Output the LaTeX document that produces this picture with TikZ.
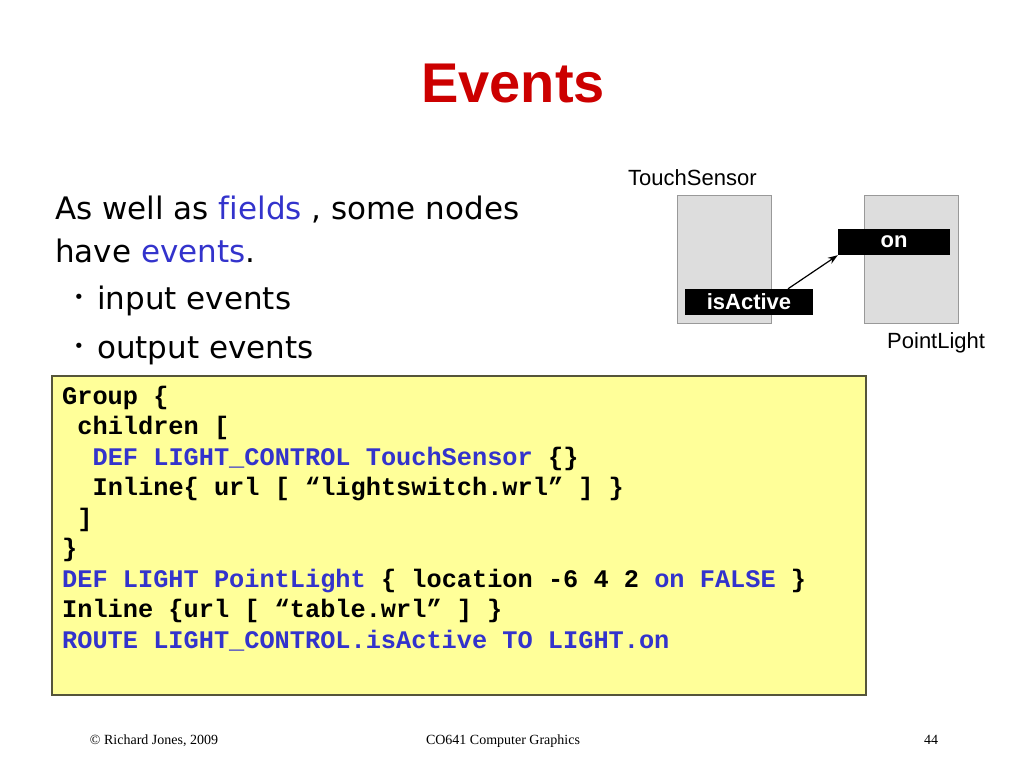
\documentclass[tikz,border=0pt]{standalone}
\usepackage{fontspec}
\setmainfont{Liberation Sans}
\setmonofont{Liberation Mono}
\newfontfamily\bodyfont[Ligatures={NoCommon}]{DejaVu Sans}
\newfontfamily\footfont{Liberation Serif}
\usetikzlibrary{arrows.meta}
\definecolor{titlered}{HTML}{CC0000}
\definecolor{codeblue}{HTML}{3333CC}
\definecolor{codeyellow}{HTML}{FFFF99}
\definecolor{codeborder}{HTML}{55553A}
\definecolor{boxgray}{HTML}{DDDDDD}
\definecolor{boxedge}{HTML}{999999}
\begin{document}
\begin{tikzpicture}[x=1pt,y=-1pt,
  txt/.style={inner sep=0pt,anchor=base west},
  body/.style={txt,font=\bodyfont\fontsize{31}{37}\selectfont},
  code/.style={txt,font=\ttfamily\bfseries\fontsize{25.3}{30}\selectfont},
  lbl/.style={inner sep=0pt,anchor=base west,font=\fontsize{22}{26}\selectfont},
  nodebox/.style={draw=boxedge,fill=boxgray,line width=0.8pt},
  field/.style={fill=black,text=white,font=\bfseries\fontsize{22}{26}\selectfont,inner sep=0pt},
  foot/.style={inner sep=0pt,anchor=base,font=\footfont\fontsize{14}{16}\selectfont},
  bl/.style={text=codeblue}]
\useasboundingbox (0,0) rectangle (1024,768);
\fill[white] (0,0) rectangle (1024,768);
% title
\node[inner sep=0pt,anchor=base,text=titlered,font=\bfseries\fontsize{56}{60}\selectfont] (title) at (513,102) {Events};
% body text
\node[body] (l1) at (55,219) {As well as \textcolor{codeblue}{fields} , some nodes};
\node[body] (l2) at (55,262) {have \textcolor{codeblue}{events}.};
\node[inner sep=0pt,anchor=base,font=\bodyfont\fontsize{18}{20}\selectfont] (b1) at (79,303) {•};
\node[body] (l3) at (97,309) {input events};
\node[inner sep=0pt,anchor=base,font=\bodyfont\fontsize{18}{20}\selectfont] (b2) at (79,352) {•};
\node[body] (l4) at (97,358) {output events};
% diagram
\node[lbl] (tslabel) at (628,185) {TouchSensor};
\draw[nodebox] (677,195) rectangle (771,323);
\draw[nodebox] (864,195) rectangle (958,323);
\node[lbl] (pllabel) at (887,348) {PointLight};
\node[field,minimum width=112pt,minimum height=26pt] (on) at (894,242) {on};
\node[field,minimum width=128pt,minimum height=26pt] (isactive) at (749,302) {isActive};
\draw[-{Stealth[length=10pt,width=7pt]},line width=1.2pt] ([xshift=39pt]isactive.north) -- (on.south west);
% code box
\draw[fill=codeyellow,draw=codeborder,line width=1.5pt] (52,376) rectangle (866,695);
\node[code] (c1) at (62,404) {Group \{};
\node[code] (c2) at (77.2,434.5) {children [};
\node[code] (c3) at (92.4,465) {\textcolor{codeblue}{DEF LIGHT\_CONTROL TouchSensor} \{\}};
\node[code] (c4) at (92.4,495.5) {Inline\{ url [ “lightswitch.wrl” ] \}};
\node[code] (c5) at (77.2,526) {]};
\node[code] (c6) at (62,556.5) {\}};
\node[code] (c7) at (62,587) {\textcolor{codeblue}{DEF LIGHT PointLight} \{ location -6 4 2 \textcolor{codeblue}{on FALSE} \}};
\node[code] (c8) at (62,617.5) {Inline \{url [ “table.wrl” ] \}};
\node[code] (c9) at (62,648) {\textcolor{codeblue}{ROUTE LIGHT\_CONTROL.isActive TO LIGHT.on}};
% footer
\node[foot] (f1) at (154,744) {© Richard Jones, 2009};
\node[foot] (f2) at (503,744) {CO641 Computer Graphics};
\node[foot] (f3) at (931,744) {44};
\end{tikzpicture}
\end{document}
